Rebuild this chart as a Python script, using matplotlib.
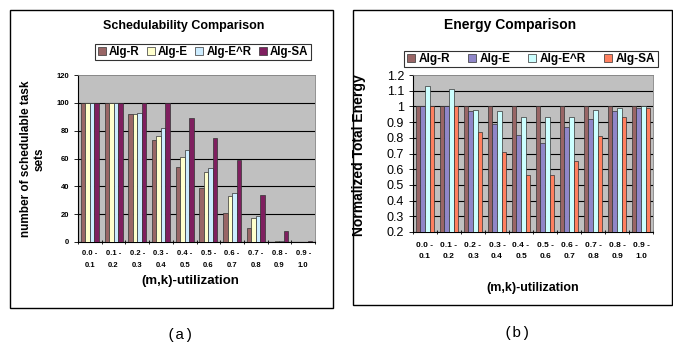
import matplotlib
matplotlib.use("Agg")
import matplotlib.pyplot as plt
import numpy as np
from matplotlib.patches import Rectangle

plt.rcParams['font.family'] = ['Liberation Sans', 'DejaVu Sans']

categories = ["0.0 -\n0.1", "0.1 -\n0.2", "0.2 -\n0.3", "0.3 -\n0.4", "0.4 -\n0.5",
              "0.5 -\n0.6", "0.6 -\n0.7", "0.7 -\n0.8", "0.8 -\n0.9", "0.9 -\n1.0"]
series_names = ["Alg-R", "Alg-E", "Alg-E^R", "Alg-SA"]

sched_R = [100, 100, 92, 73, 54, 39, 21, 10, 0, 0]
sched_E = [100, 100, 92, 76, 61, 50, 33, 17, 1, 0]
sched_ER = [100, 100, 93, 82, 66, 53, 35, 19, 1, 0]
sched_SA = [100, 100, 100, 100, 89, 75, 59, 34, 8, 1]

energy_R = [1.0, 1.0, 1.0, 1.0, 1.0, 1.0, 1.0, 1.0, 1.0, 1.0]
energy_E = [1.0, 1.0, 0.97, 0.89, 0.82, 0.77, 0.87, 0.92, 0.97, 0.99]
energy_ER = [1.13, 1.11, 0.98, 0.97, 0.93, 0.93, 0.93, 0.98, 0.99, 1.0]
energy_SA = [1.0, 1.0, 0.84, 0.71, 0.56, 0.56, 0.65, 0.81, 0.93, 0.99]

W, H = 673, 343
fig = plt.figure(figsize=(W / 100, H / 100), dpi=100)


def rect(x0, y0, x1, y1):
    return [x0 / W, (H - y1) / H, (x1 - x0) / W, (y1 - y0) / H]


# panel borders
for (x0, y0, x1, y1) in [(10, 10, 333, 308), (353, 10, 672, 305)]:
    fig.patches.append(Rectangle((x0 / W, (H - y1) / H), (x1 - x0) / W, (y1 - y0) / H,
                                 transform=fig.transFigure, fill=False,
                                 edgecolor='black', linewidth=1.0))


def draw_bars(ax, data, colors, bottom):
    n = len(categories)
    x = np.arange(n)
    bw = 0.19
    for i, (vals, c) in enumerate(zip(data, colors)):
        ax.bar(x + (i - 1.5) * bw, np.array(vals) - bottom, bw, bottom=bottom,
               color=c, edgecolor='#333333', linewidth=0.5, label=series_names[i], zorder=3)
    ax.set_xlim(-0.5, n - 0.5)
    ax.set_facecolor('#C0C0C0')
    ax.set_xticks(x)
    ax.set_xticks(np.arange(n + 1) - 0.5, minor=True)
    ax.tick_params(axis='x', which='major', length=0)
    ax.tick_params(axis='x', which='minor', length=3, direction='inout', width=0.6)
    for s in ['top', 'right']:
        ax.spines[s].set_color('#808080')
        ax.spines[s].set_linewidth(0.6)
    for s in ['left', 'bottom']:
        ax.spines[s].set_color('black')
        ax.spines[s].set_linewidth(0.8)
    ax.yaxis.grid(True, color='black', linewidth=0.8, zorder=1)
    ax.set_axisbelow(True)


# ---- Left panel
axL = fig.add_axes(rect(78, 75, 315, 242))
draw_bars(axL, [sched_R, sched_E, sched_ER, sched_SA],
          ['#996666', '#FFFFCC', '#CCECFF', '#7F1F5F'], 0)
axL.set_ylim(0, 120)
axL.set_yticks(np.arange(0, 121, 20))
axL.yaxis.get_gridlines()[-1].set_visible(False)
axL.set_xticklabels(categories, fontsize=5.5, fontweight='bold', linespacing=1.9)
axL.tick_params(axis='y', labelsize=5.5, length=3, direction='out', width=0.6)
for t in axL.get_yticklabels():
    t.set_fontweight('bold')
axL.tick_params(axis='x', which='major', pad=6)
fig.text(184 / W, 1 - 26 / H, "Schedulability Comparison", ha='center', va='center',
         fontsize=9, fontweight='bold')
fig.text(190 / W, 1 - 281 / H, "(m,k)-utilization", ha='center', va='center',
         fontsize=9.5, fontweight='bold')
fig.text(33 / W, 1 - 159 / H, "number of schedulable task\nsets", ha='center', va='center',
         rotation=90, fontsize=8.5, fontweight='bold', linespacing=1.15)
legL = axL.legend(loc='center', bbox_to_anchor=(203 / W, 1 - 52 / H),
                  bbox_transform=fig.transFigure, ncol=4, frameon=True, fancybox=False,
                  handlelength=0.7, handleheight=0.7, handletextpad=0.3, columnspacing=0.6,
                  borderpad=0.2, prop={'size': 8.3, 'weight': 'bold'})
legL.get_frame().set_edgecolor('black')
legL.get_frame().set_linewidth(0.8)

# ---- Right panel
axR = fig.add_axes(rect(413, 75, 653, 232))
draw_bars(axR, [energy_R, energy_E, energy_ER, energy_SA],
          ['#996666', '#8F86C8', '#CCFFFF', '#FF8060'], 0.2)
axR.set_ylim(0.2, 1.2)
axR.set_yticks(np.round(np.arange(0.2, 1.21, 0.1), 1))
axR.yaxis.get_gridlines()[-1].set_visible(False)
axR.set_yticklabels(["0.2", "0.3", "0.4", "0.5", "0.6", "0.7", "0.8", "0.9", "1", "1.1", "1.2"])
axR.set_xticklabels(categories, fontsize=6, fontweight='bold', linespacing=1.9)
axR.tick_params(axis='y', labelsize=9, length=3, direction='out', width=0.6)
axR.tick_params(axis='x', which='major', pad=7)
fig.text(510 / W, 1 - 25 / H, "Energy Comparison", ha='center', va='center',
         fontsize=10, fontweight='bold')
fig.text(533 / W, 1 - 288 / H, "(m,k)-utilization", ha='center', va='center',
         fontsize=9, fontweight='bold')
fig.text(359 / W, 1 - 155 / H, "Normalized Total Energy", ha='center', va='center',
         rotation=90, fontsize=10, fontweight='bold')
legR = axR.legend(loc='center', bbox_to_anchor=(531 / W, 1 - 59 / H),
                  bbox_transform=fig.transFigure, ncol=4, frameon=True, fancybox=False,
                  handlelength=0.7, handleheight=0.7, handletextpad=0.3, columnspacing=1.5,
                  borderpad=0.2, prop={'size': 8.5, 'weight': 'bold'})
legR.get_frame().set_edgecolor('black')
legR.get_frame().set_linewidth(0.8)

# captions
fig.text(180 / W, 1 - 335 / H, "(a)", ha='center', va='center', fontsize=11,
         family=['Liberation Mono', 'DejaVu Sans Mono'])
fig.text(517 / W, 1 - 333 / H, "(b)", ha='center', va='center', fontsize=11,
         family=['Liberation Mono', 'DejaVu Sans Mono'])

fig.savefig("out.png", dpi=100)
